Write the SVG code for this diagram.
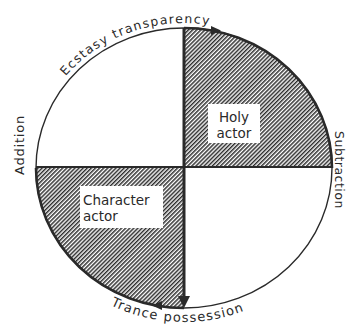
<svg xmlns="http://www.w3.org/2000/svg" width="348" height="329" viewBox="0 0 348 329">
<style>
.lbl{font-family:"DejaVu Sans","Liberation Sans",sans-serif;fill:#2a2a2a;}
.thin{fill:none;stroke:#2a2a2a;stroke-width:1.4;}
.thick{fill:none;stroke:#2a2a2a;stroke-width:2.6;}
.box{fill:#ffffff;stroke:none;}
.ah{fill:#2a2a2a;}
</style>
<defs>
<pattern id="hatch" patternUnits="userSpaceOnUse" width="2.9" height="10" patternTransform="rotate(45)">
<rect x="0" y="0" width="1.5" height="10" fill="#2e2e2e"/>
</pattern>
<path id="topArc" d="M31,168 A153 145 0 0 1 337,168"/>
<path id="botArc" d="M23,168 A161 154 0 0 0 345,168"/>
</defs>
<rect width="348" height="329" fill="#ffffff"/>
<g id="quadrant-holy">
<path d="M184,168 L184,28 A148 140 0 0 1 332,168 Z" fill="url(#hatch)"/>
<rect class="box" x="208" y="104" width="52" height="39"/>
<text class="lbl" x="234" y="122" font-size="13.5" text-anchor="middle">Holy</text>
<text class="lbl" x="234" y="138" font-size="13.5" text-anchor="middle">actor</text>
</g>
<g id="quadrant-character">
<path d="M184,168 L184,308 A148 140 0 0 1 36,168 Z" fill="url(#hatch)"/>
<rect class="box" x="80" y="186" width="83" height="42"/>
<text class="lbl" x="83" y="205" font-size="13.5">Character</text>
<text class="lbl" x="83" y="221" font-size="13.5">actor</text>
</g>
<g id="connectors">
<ellipse class="thin" cx="184" cy="168" rx="148" ry="140"/>
<path class="thick" d="M184,28 A148 140 0 0 1 332,168"/>
<path class="thick" d="M184,308 A148 140 0 0 1 36,168"/>
<line x1="36" y1="167" x2="332" y2="167" stroke="#2a2a2a" stroke-width="2"/>
<line x1="184" y1="28" x2="184" y2="298" stroke="#2a2a2a" stroke-width="3"/>
<polygon class="ah" points="221,30.5 211,26 211,35"/>
<polygon class="ah" points="184,308 178,296 190,296"/>
<polygon class="ah" points="152,305.5 162,301 162,310"/>
</g>
<g id="labels">
<text class="lbl" font-size="12.5" letter-spacing="1.3"><textPath href="#topArc" startOffset="38.5%" text-anchor="middle">Ecstasy transparency</textPath></text>
<text class="lbl" font-size="13" letter-spacing="1.2"><textPath href="#botArc" startOffset="48.6%" text-anchor="middle">Trance possession</textPath></text>
<text class="lbl" font-size="13" letter-spacing="0.8" text-anchor="middle" transform="translate(24,145) rotate(-90)">Addition</text>
<text class="lbl" font-size="12.5" letter-spacing="0.5" text-anchor="middle" transform="translate(335,170) rotate(90)">Subtraction</text>
</g>
</svg>
